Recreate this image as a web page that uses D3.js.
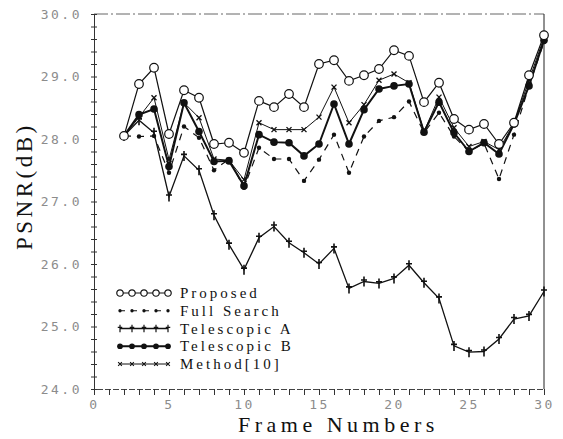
<!DOCTYPE html>
<html>
<head>
<meta charset="utf-8">
<script src="https://cdn.jsdelivr.net/npm/d3@7"></script>
<style>
    body { margin: 0; background: #fff; }
    .tick text { font-family: "DejaVu Sans Mono", monospace; font-size: 13px; fill: #8c8c8c; letter-spacing: 2.5px; }
    .title { font-family: "Liberation Serif", serif; fill: #111; }
    .legend text { font-family: "Liberation Serif", serif; font-size: 15px; fill: #111; letter-spacing: 3px; }
</style>
</head>
<body>
<svg width="563" height="439"></svg>
<script>
var frames = [2, 3, 4, 5, 6, 7, 8, 9, 10, 11, 12, 13, 14, 15, 16, 17, 18, 19, 20, 21, 22, 23, 24, 25, 26, 27, 28, 29, 30];

var proposed = [28.05, 28.88, 29.14, 28.08, 28.78, 28.66, 27.92, 27.94, 27.78, 28.61, 28.51, 28.72, 28.51, 29.20, 29.26,
    28.93, 29.02, 29.12, 29.42, 29.33, 28.59, 28.90, 28.32, 28.15, 28.24, 27.92, 28.26, 29.02, 29.66];
var fullSearch = [28.05, 28.04, 28.05, 27.46, 28.20, 28.02, 27.50, 27.68, 27.22, 27.86, 27.68, 27.68, 27.33, 27.67, 28.07,
    27.46, 28.04, 28.29, 28.35, 28.60, 28.10, 28.42, 28.04, 27.80, 27.93, 27.36, 28.07, 28.85, 29.55];
var telescopicA = [28.05, 28.30, 28.10, 27.08, 27.73, 27.50, 26.78, 26.31, 25.91, 26.42, 26.60, 26.34, 26.18, 26.00, 26.25,
    25.61, 25.72, 25.69, 25.77, 25.98, 25.70, 25.45, 24.69, 24.59, 24.60, 24.80, 25.12, 25.17, 25.56];
var telescopicB = [28.05, 28.39, 28.48, 27.56, 28.58, 28.12, 27.64, 27.65, 27.25, 28.07, 27.95, 27.94, 27.73, 27.92, 28.56,
    27.92, 28.47, 28.80, 28.85, 28.88, 28.11, 28.59, 28.10, 27.80, 27.94, 27.76, 28.24, 28.85, 29.58];
var method10 = [28.05, 28.35, 28.66, 27.67, 28.58, 28.34, 27.68, 27.66, 27.35, 28.26, 28.15, 28.15, 28.15, 28.35, 28.83,
    28.26, 28.55, 28.94, 29.04, 28.90, 28.12, 28.67, 28.18, 27.88, 27.96, 27.83, 28.25, 28.94, 29.62];

var seriesNames = ["Proposed", "Full Search", "Telescopic A", "Telescopic B", "Method[10]"];
var xTicks = [0, 5, 10, 15, 20, 25, 30];
var yTicks = [24, 25, 26, 27, 28, 29, 30];

var svg = d3.select("svg"),
    margin = {top: 14, right: 19, bottom: 50, left: 94},
    width = +svg.attr("width") - margin.left - margin.right,
    height = +svg.attr("height") - margin.top - margin.bottom;

var x = d3.scaleLinear().domain([0, 30]).range([0, width]);
var y = d3.scaleLinear().domain([24, 30]).range([height, 0]);

var g = svg.append("g")
    .attr("transform", "translate(" + margin.left + "," + margin.top + ")");

// frame: dotted top, thin right
g.append("line").attr("x1", 0).attr("x2", width).attr("y1", 0).attr("y2", 0)
    .attr("stroke", "#666").attr("stroke-width", 1).attr("stroke-dasharray", "14,3,2,3");
g.append("line").attr("x1", width).attr("x2", width).attr("y1", 0).attr("y2", height)
    .attr("stroke", "#222").attr("stroke-width", 1);

// x axis, ticks every frame
var xAxis = g.append("g")
    .attr("transform", "translate(0," + height + ")")
    .call(d3.axisBottom(x).tickValues(d3.range(0, 31, 1)).tickSize(6).tickPadding(5)
        .tickFormat(function (d) { return xTicks.indexOf(d) >= 0 ? d : ""; }));
xAxis.select(".domain").attr("stroke", "#444").attr("stroke-dasharray", "6,2");
xAxis.selectAll(".tick line").attr("stroke", "#333");

// y axis, minor ticks every 0.2
var yAxis = g.append("g")
    .call(d3.axisLeft(y).tickValues(d3.range(0, 31).map(function (i) { return 24 + i * 0.2; }))
        .tickSize(3).tickPadding(9)
        .tickFormat(function (d) {
            var r = Math.round(d * 10) / 10;
            return yTicks.indexOf(r) >= 0 ? r.toFixed(1) : "";
        }));
yAxis.select(".domain").attr("stroke", "#333");
yAxis.selectAll(".tick line").attr("x1", 3).attr("stroke", "#333");

// titles
svg.append("text").attr("class", "title")
    .attr("x", 238).attr("y", 432)
    .style("font-size", "22px").style("letter-spacing", "4.5px")
    .text("Frame Numbers");
svg.append("text").attr("class", "title")
    .attr("transform", "translate(32,250) rotate(-90)")
    .style("font-size", "23px").style("letter-spacing", "3.5px")
    .text("PSNR(dB)");

// marker shapes
function drawMarker(sel, kind, s) {
    s = s || 1;
    if (kind === "Proposed") {
        sel.append("circle").attr("r", 4.3 * s).attr("fill", "#fff").attr("stroke", "#111").attr("stroke-width", 1.2);
    } else if (kind === "Full Search") {
        sel.append("circle").attr("r", 2.2 * s).attr("fill", "#111");
    } else if (kind === "Telescopic A") {
        sel.append("path").attr("d", "M0,-5V5M-3,-1.5H3").attr("transform", "scale(" + s + ")")
            .attr("stroke", "#111").attr("stroke-width", 1.6).attr("fill", "none");
    } else if (kind === "Telescopic B") {
        sel.append("circle").attr("r", 3.8 * s).attr("fill", "#111");
    } else {
        sel.append("path").attr("d", "M-2.5,-2.5L2.5,2.5M-2.5,2.5L2.5,-2.5").attr("transform", "scale(" + s + ")")
            .attr("stroke", "#111").attr("stroke-width", 1.4);
    }
}

var styles = {
    "Proposed": {width: 1.2, dash: null},
    "Full Search": {width: 1.2, dash: "7,6"},
    "Telescopic A": {width: 1.3, dash: null},
    "Telescopic B": {width: 2.0, dash: null},
    "Method[10]": {width: 1.0, dash: null}
};

var seriesData = {
    "Proposed": proposed,
    "Full Search": fullSearch,
    "Telescopic A": telescopicA,
    "Telescopic B": telescopicB,
    "Method[10]": method10
};

var line = d3.line()
    .x(function (d) { return x(d.f); })
    .y(function (d) { return y(d.v); });

var drawOrder = ["Telescopic A", "Full Search", "Method[10]", "Telescopic B", "Proposed"];
drawOrder.forEach(function (name) {
    var pts = frames.map(function (f, i) { return {f: f, v: seriesData[name][i]}; });
    var st = styles[name];
    g.append("path")
        .datum(pts)
        .attr("fill", "none")
        .attr("stroke", "#111")
        .attr("stroke-width", st.width)
        .attr("stroke-dasharray", st.dash)
        .attr("d", line);
    g.selectAll(".m-" + name.replace(/[^a-z]/gi, ""))
        .data(pts)
        .enter().append("g")
        .attr("transform", function (d) { return "translate(" + x(d.f) + "," + y(d.v) + ")"; })
        .each(function () { drawMarker(d3.select(this), name); });
});

// legend
var legend = svg.append("g").attr("class", "legend");
var sampleX = d3.scaleLinear().domain([0, 4]).range([120, 168]);
var rowY = d3.scaleLinear().domain([0, 4]).range([293, 364]);
seriesNames.forEach(function (name, i) {
    var st = styles[name];
    var row = legend.append("g");
    row.append("line")
        .attr("x1", sampleX(0)).attr("x2", sampleX(4))
        .attr("y1", rowY(i)).attr("y2", rowY(i))
        .attr("stroke", "#111").attr("stroke-width", st.width)
        .attr("stroke-dasharray", name === "Full Search" ? "5,7" : null);
    d3.range(5).forEach(function (k) {
        var mk = row.append("g").attr("transform", "translate(" + sampleX(k) + "," + rowY(i) + ")");
        drawMarker(mk, name, 0.75);
    });
    row.append("text")
        .attr("x", 180).attr("y", rowY(i) + 5)
        .text(name);
});
</script>
</body>
</html>
